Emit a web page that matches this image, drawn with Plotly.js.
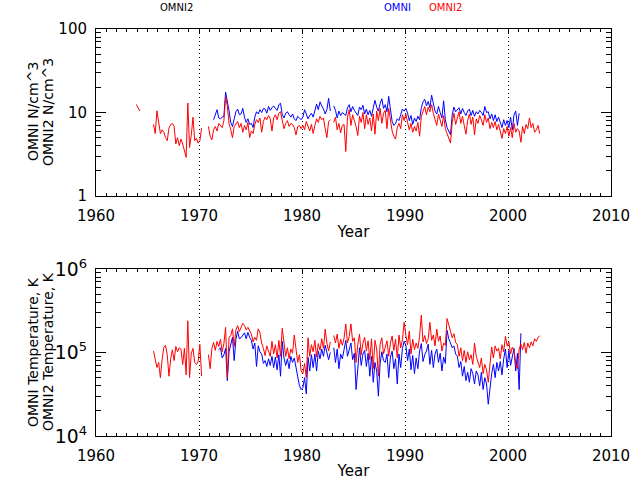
<!DOCTYPE html>
<html>
<head>
<meta charset="utf-8">
<script src="https://cdn.plot.ly/plotly-3.0.1.min.js"></script>
<style>
  html, body { margin: 0; padding: 0; background: #fff; }
  #chart { width: 640px; height: 480px; }
</style>
</head>
<body>
<div id="chart"></div>
<script>
// Bimonthly averages, six samples per calendar year, null = data gap.
const SAMPLES_PER_YEAR = 6;

// Proton density, OMNI2 (starts 1963) and OMNI (starts 1971), N/cm^3
const densityOmni2Start = 1963;
const densityOmni2 = [
  null, null, null, null, null, 12.5,      // 1963
  11.2, 10.4, null, null, null, null,      // 1964
  null, null, null, 7.2, 5.6, 10.5,        // 1965
  8.0, 5.6, 6.2, 5.8, 5.0, 4.6,            // 1966
  6.5, 7.2, 7.4, 6.8, 4.2, 5.0,            // 1967
  4.0, 4.8, 4.2, 3.4, 2.9, 13.0,           // 1968
  3.8, 5.4, 8.8, 4.6, 4.9, 4.3,            // 1969
  4.6, 6.5, null, null, null, 6.8,         // 1970
  5.2, 4.7, 6.2, 6.8, 6.0, 7.4,            // 1971
  7.0, 6.6, 8.0, 15.3, 12.0, 7.4,          // 1972
  6.2, 5.0, 6.8, 7.2, 7.8, 6.6,            // 1973
  7.4, 5.8, 7.0, 6.2, 7.6, 5.0,            // 1974
  6.0, 5.6, 7.2, 8.2, 7.6, 8.6,            // 1975
  5.8, 7.8, 8.8, 8.2, 9.2, 8.4,            // 1976
  6.0, 8.6, 9.4, 8.2, 9.8, 10.2,           // 1977
  7.8, 6.4, 7.4, 8.0, 6.8, 7.4,            // 1978
  7.2, 6.6, 5.4, 6.8, 7.0, 6.4,            // 1979
  7.0, 6.2, 7.8, 6.6, 6.0, 7.2,            // 1980
  5.6, 7.0, 8.4, 7.6, 9.0, 8.2,            // 1981
  8.6, 6.4, 5.0, 7.8, 8.2, null,           // 1982
  7.6, 8.8, 6.2, 7.4, 5.7, 7.0,            // 1983
  7.2, 3.4, 8.8, 10.8, 7.0, 9.4,           // 1984
  8.0, 6.8, 5.3, 9.0, 7.6, 10.0,           // 1985
  6.4, 9.4, 7.2, 8.6, 6.0, 9.6,            // 1986
  5.5, 10.4, 8.0, 11.2, 7.4, 9.8,          // 1987
  10.6, 6.4, 11.2, 8.4, 6.0, 5.2,          // 1988
  4.8, 6.6, 7.4, 6.4, 9.4, 8.0,            // 1989
  9.6, 7.6, 6.2, 7.4, 5.8, 6.8,            // 1990
  6.0, 7.6, 5.2, 9.0, 10.4, 11.8,          // 1991
  9.4, 11.6, 10.2, 12.4, 9.8, 8.2,         // 1992
  7.0, 9.6, 8.0, 6.8, 9.2, 6.4,            // 1993
  5.6, 4.8, 4.3, 7.6, 9.8, 7.2,            // 1994
  8.8, 10.2, 7.4, 9.0, 7.0, 5.5,           // 1995
  8.0, 9.6, 7.2, 8.8, 5.4, 8.4,            // 1996
  7.4, 9.2, 8.2, 7.0, 9.4, 7.6,            // 1997
  8.6, 6.4, 7.6, 6.6, 7.8, 6.2,            // 1998
  7.2, 6.0, 4.9, 6.4, 5.6, 6.8,            // 1999
  5.2, 6.6, 5.0, 7.4, 5.8, 6.4,            // 2000
  6.0, 4.4, 6.8, 5.6, 7.2, 6.4,            // 2001
  8.6, 6.6, 7.4, 5.8, 6.2, 7.0,            // 2002
  5.6                                      // 2003
];

const densityOmniStart = 1971;
const densityOmni = [
  null, null, 8.2, 9.5, 10.8, 8.6,         // 1971
  8.4, 8.8, 9.0, 17.5, 14.0, 10.5,         // 1972
  7.6, 6.8, 8.4, 10.2, 11.0, 9.4,          // 1973
  9.6, 11.2, 8.8, 7.6, 8.4, 7.2,           // 1974
  7.4, 6.6, 8.8, 10.2, 9.6, 10.8,          // 1975
  10.0, 11.2, 11.0, 9.8, 11.8, 10.6,       // 1976
  11.4, 12.0, 11.2, 10.6, 12.4, 12.9,      // 1977
  9.4, 8.6, 9.8, 10.2, 9.4, 8.8,           // 1978
  9.6, 8.4, 8.0, 9.0, 8.6, 8.2,            // 1979
  8.8, 10.8, 9.6, 8.4, 9.2, 9.8,           // 1980
  8.8, 10.4, 12.6, 10.8, 13.4, 12.0,       // 1981
  11.0, 9.6, 10.8, 14.8, 10.4, null,       // 1982
  12.0, 10.6, 8.6, 10.4, 9.2, 10.0,        // 1983
  9.6, 9.2, 11.4, 12.4, 10.2, 11.8,        // 1984
  10.6, 10.0, 9.2, 11.6, 10.8, 12.2,       // 1985
  9.6, 11.0, 9.4, 10.6, 9.0, 11.4,         // 1986
  14.0, 11.6, 10.4, 12.8, 14.6, 11.2,      // 1987
  12.4, 10.2, 15.6, 11.0, 7.8, 7.0,        // 1988
  7.4, 8.4, 8.0, 9.4, 11.0, 10.4,          // 1989
  11.2, 9.8, 8.0, 9.2, 7.2, 8.6,           // 1990
  7.8, 9.0, 8.2, 11.4, 13.4, 14.4,         // 1991
  12.0, 13.6, 11.4, 16.1, 12.8, 10.4,      // 1992
  9.6, 11.8, 10.0, 8.6, 13.8, 8.2,         // 1993
  6.6, 5.8, 5.4, 9.4, 11.6, 10.2,          // 1994
  10.8, 11.4, 9.6, 11.2, 10.0, 9.2,        // 1995
  10.4, 11.0, 9.2, 10.6, 9.0, 10.2,        // 1996
  9.6, 10.6, 10.0, 9.2, 11.8, 10.0,        // 1997
  10.2, 8.4, 9.6, 8.0, 9.4, 7.8,           // 1998
  8.8, 7.8, 6.6, 8.2, 7.0, 8.0,            // 1999
  6.6, 8.8, 6.2, 9.4, 10.4, 7.0,           // 2000
  9.8                                      // 2001
];

// Proton temperature, OMNI2 (starts 1965) and OMNI (starts 1971), K
const tempOmni2Start = 1965;
const tempOmni2 = [
  null, null, null, 1.04e5, 8.2e4, 6.6e4,          // 1965
  7.6e4, 5.0e4, 8.2e4, 1.15e5, 1.22e5, 9.4e4,      // 1966
  5.2e4, 8.4e4, 1.08e5, 8.0e4, 1.18e5, 1.02e5,     // 1967
  1.14e5, 1.10e5, 7.2e4, 1.12e5, 5.4e4, 2.4e5,     // 1968
  5.0e4, 9.8e4, 1.12e5, 7.6e4, 7.2e4, 7.8e4,       // 1969
  1.25e5, 5.2e4, null, null, null, 9.4e4,          // 1970
  6.4e4, 1.12e5, 1.32e5, 1.06e5, 1.36e5, 1.18e5,   // 1971
  1.44e5, 1.02e5, 1.28e5, 2.0e5, 5.0e4, 1.50e5,    // 1972
  1.60e5, 1.92e5, 1.18e5, 1.86e5, 2.1e5, 1.78e5,   // 1973
  2.04e5, 2.24e5, 2.1e5, 1.86e5, 2.0e5, 1.80e5,    // 1974
  1.66e5, 1.34e5, 1.52e5, 1.40e5, 1.92e5, 1.72e5,  // 1975
  1.30e5, 1.12e5, 9.2e4, 1.20e5, 1.02e5, 9.0e4,    // 1976
  1.36e5, 9.6e4, 1.24e5, 8.6e4, 1.40e5, 9.0e4,     // 1977
  1.95e5, 1.26e5, 9.0e4, 1.14e5, 8.4e4, 1.10e5,    // 1978
  9.8e4, 1.62e5, 1.12e5, 7.6e4, 9.4e4, 6.0e4,      // 1979
  5.6e4, 7.4e4, 5.0e4, 1.50e5, 9.0e4, 1.24e5,      // 1980
  1.02e5, 1.40e5, 8.8e4, 1.28e5, 1.06e5, 1.46e5,   // 1981
  1.12e5, 1.90e5, 1.30e5, 1.04e5, 1.34e5, null,    // 1982
  1.60e5, 1.30e5, 1.66e5, 1.12e5, 1.44e5, 1.22e5,  // 1983
  1.48e5, 2.2e5, 1.30e5, 1.56e5, 2.2e5, 1.36e5,    // 1984
  1.50e5, 7.6e4, 1.24e5, 1.66e5, 9.4e4, 1.30e5,    // 1985
  1.52e5, 1.04e5, 1.38e5, 8.2e4, 1.46e5, 6.4e4,    // 1986
  1.40e5, 1.10e5, 5.2e4, 1.26e5, 1.50e5, 9.6e4,    // 1987
  1.16e5, 1.38e5, 9.0e4, 1.30e5, 1.58e5, 1.06e5,   // 1988
  1.44e5, 8.6e4, 1.62e5, 1.14e5, 1.42e5, 2.3e5,    // 1989
  1.60e5, 1.24e5, 1.80e5, 9.6e4, 1.44e5, 1.08e5,   // 1990
  1.30e5, 1.12e5, 1.56e5, 2.8e5, 1.34e5, 1.60e5,   // 1991
  1.28e5, 1.46e5, 2.3e5, 1.40e5, 1.62e5, 1.20e5,   // 1992
  1.90e5, 1.36e5, 1.58e5, 1.04e5, 1.30e5, 1.22e5,  // 1993
  2.55e5, 2.2e5, 1.80e5, 1.50e5, 1.68e5, 1.32e5,   // 1994
  1.24e5, 9.0e4, 1.14e5, 8.0e4, 1.06e5, 7.6e4,     // 1995
  1.02e5, 8.2e4, 9.4e4, 7.2e4, 1.30e5, 9.0e4,      // 1996
  7.8e4, 6.6e4, 8.6e4, 5.6e4, 7.2e4, 6.2e4,        // 1997
  4.4e4, 7.0e4, 1.16e5, 8.6e4, 1.20e5, 1.04e5,     // 1998
  1.12e5, 8.4e4, 1.24e5, 1.02e5, 1.56e5, 1.20e5,   // 1999
  1.34e5, 9.6e4, 1.16e5, 1.04e5, 7.4e4, 6.4e4,     // 2000
  1.10e5, 1.26e5, 1.08e5, 1.32e5, 9.8e4, 1.30e5,   // 2001
  1.14e5, 1.34e5, 1.20e5, 1.46e5, 1.36e5, 1.52e5,  // 2002
  1.58e5                                           // 2003
];

const tempOmniStart = 1971;
const tempOmni = [
  null, null, null, null, null, 1.08e5,            // 1971
  1.14e5, 8.6e4, 9.4e4, 1.12e5, 4.6e4, 1.02e5,     // 1972
  1.30e5, 1.52e5, 8.0e4, 1.44e5, 1.80e5, 1.46e5,   // 1973
  1.50e5, 1.62e5, 1.72e5, 1.46e5, 1.74e5, 1.52e5,  // 1974
  1.40e5, 1.10e5, 1.30e5, 6.8e4, 1.20e5, 1.02e5,   // 1975
  9.6e4, 7.4e4, 8.0e4, 6.8e4, 8.4e4, 7.0e4,        // 1976
  9.0e4, 6.6e4, 8.8e4, 6.2e4, 9.4e4, 5.2e4,        // 1977
  1.36e5, 8.6e4, 7.0e4, 8.4e4, 6.4e4, 9.0e4,       // 1978
  7.6e4, 8.6e4, 6.8e4, 5.4e4, 4.0e4, 3.6e4,        // 1979
  3.8e4, 5.0e4, 3.2e4, 8.8e4, 6.0e4, 9.4e4,        // 1980
  6.6e4, 9.6e4, 6.0e4, 1.04e5, 8.4e4, 1.10e5,      // 1981
  9.0e4, 1.22e5, 1.02e5, 8.2e4, 1.0e5, null,       // 1982
  1.14e5, 7.6e4, 1.10e5, 6.4e4, 9.6e4, 8.4e4,      // 1983
  1.08e5, 1.40e5, 9.0e4, 1.12e5, 1.30e5, 8.2e4,    // 1984
  9.8e4, 3.6e4, 6.8e4, 1.14e5, 7.0e4, 9.6e4,       // 1985
  1.06e5, 6.8e4, 9.8e4, 5.2e4, 9.0e4, 4.4e4,       // 1986
  7.6e4, 6.0e4, 3.0e4, 7.4e4, 1.02e5, 8.0e4,       // 1987
  7.6e4, 9.6e4, 5.0e4, 8.8e4, 1.04e5, 6.4e4,       // 1988
  8.4e4, 4.2e4, 9.6e4, 6.6e4, 1.12e5, 1.36e5,      // 1989
  1.22e5, 8.0e4, 1.10e5, 6.2e4, 9.2e4, 5.6e4,      // 1990
  8.6e4, 6.4e4, 1.04e5, 1.28e5, 7.8e4, 9.4e4,      // 1991
  1.04e5, 1.26e5, 7.2e4, 1.06e5, 6.6e4, 9.6e4,     // 1992
  1.10e5, 7.6e4, 9.8e4, 6.0e4, 8.8e4, 7.4e4,       // 1993
  1.84e5, 1.46e5, 1.30e5, 1.14e5, 1.20e5, 9.6e4,   // 1994
  9.0e4, 6.6e4, 7.8e4, 5.2e4, 6.8e4, 4.6e4,        // 1995
  5.8e4, 4.4e4, 6.4e4, 5.6e4, 4.2e4, 6.0e4,        // 1996
  5.4e4, 4.0e4, 5.8e4, 3.6e4, 5.0e4, 4.2e4,        // 1997
  2.4e4, 3.8e4, 5.6e4, 7.2e4, 5.0e4, 7.6e4,        // 1998
  6.0e4, 7.8e4, 5.4e4, 8.4e4, 1.10e5, 6.6e4,       // 1999
  1.06e5, 7.0e4, 9.0e4, 1.12e5, 6.0e4, 9.8e4,      // 2000
  3.6e4, 1.70e5                                    // 2001
];

// Decimal-year centre of each bimonthly sample
function sampleYears(startYear, count) {
  const years = [];
  for (let i = 0; i < count; i++) years.push(startYear + (i + 0.5) / SAMPLES_PER_YEAR);
  return years;
}

const FONT = 'DejaVu Sans, sans-serif';
const BLUE = '#0000ff';
const RED = '#ff0000';

function series(start, values, color, xa, ya, name) {
  return {
    type: 'scatter', mode: 'lines', name: name,
    x: sampleYears(start, values.length), y: values,
    xaxis: xa, yaxis: ya, connectgaps: false,
    line: {color: color, width: 1}, hoverinfo: 'x+y'
  };
}

const traces = [
  series(densityOmniStart, densityOmni, BLUE, 'x', 'y', 'OMNI'),
  series(densityOmni2Start, densityOmni2, RED, 'x', 'y', 'OMNI2'),
  series(tempOmniStart, tempOmni, BLUE, 'x2', 'y2', 'OMNI'),
  series(tempOmni2Start, tempOmni2, RED, 'x2', 'y2', 'OMNI2')
];

function yearAxis(anchor) {
  return {
    anchor: anchor, domain: [0, 1], range: [1960, 2010],
    tick0: 1960, dtick: 10, ticks: 'inside', ticklen: 4, tickcolor: '#000',
    minor: {dtick: 1, ticks: 'inside', ticklen: 3, tickcolor: '#000', showgrid: false},
    showline: true, linecolor: '#000', linewidth: 1, mirror: 'allticks',
    showgrid: true, gridcolor: '#000', gridwidth: 1, griddash: '1px,3px',
    zeroline: false, ticklabelstandoff: 6,
    tickfont: {family: FONT, size: 15, color: '#000'},
    title: {text: 'Year', font: {family: FONT, size: 15, color: '#000'}, standoff: 2}
  };
}

function logAxis(anchor, domain, range, fmt) {
  return {
    anchor: anchor, domain: domain, type: 'log', range: range,
    dtick: 1, ticks: 'inside', ticklen: 10, tickcolor: '#000',
    minor: {dtick: 'D1', ticks: 'inside', ticklen: 5, tickcolor: '#000', showgrid: false},
    showline: true, linecolor: '#000', linewidth: 1, mirror: 'allticks',
    showgrid: false, zeroline: false, exponentformat: fmt, ticklabelstandoff: 5,
    tickfont: {family: FONT, size: 15, color: '#000'}
  };
}

const W = 640, H = 480, ML = 96, MR = 29, MT = 29, MB = 44;
const plotW = W - ML - MR, plotH = H - MT - MB;
const px = v => (v - ML) / plotW;          // page x -> paper x
const py = v => (H - MB - v) / plotH;      // page y -> paper y

function label(text, x, y, color, size, angle) {
  return {
    text: text, xref: 'paper', yref: 'paper', x: px(x), y: py(y),
    xanchor: 'center', yanchor: 'middle', showarrow: false, textangle: angle || 0,
    font: {family: FONT, size: size, color: color}
  };
}

const layout = {
  width: W, height: H,
  margin: {l: ML, r: MR, t: MT, b: MB, pad: 0},
  paper_bgcolor: '#fff', plot_bgcolor: '#fff',
  showlegend: false,
  xaxis: yearAxis('y'),
  yaxis: logAxis('x', [py(196), 1], [0, 2], 'none'),
  xaxis2: yearAxis('y2'),
  yaxis2: logAxis('x2', [0, py(269)], [4, 6], 'power'),
  annotations: [
    label('OMNI2', 176, 7, '#000', 10),
    label('OMNI', 397, 7, BLUE, 10),
    label('OMNI2', 445, 7, RED, 10),
    label('OMNI N/cm^3', 33, 112, '#000', 14, -90),
    label('OMNI2 N/cm^3', 48, 112, '#000', 14, -90),
    label('OMNI Temperature, K', 33, 352, '#000', 14, -90),
    label('OMNI2 Temperature, K', 48, 352, '#000', 14, -90)
  ]
};

Plotly.newPlot('chart', traces, layout, {staticPlot: true, displayModeBar: false});
</script>
</body>
</html>
